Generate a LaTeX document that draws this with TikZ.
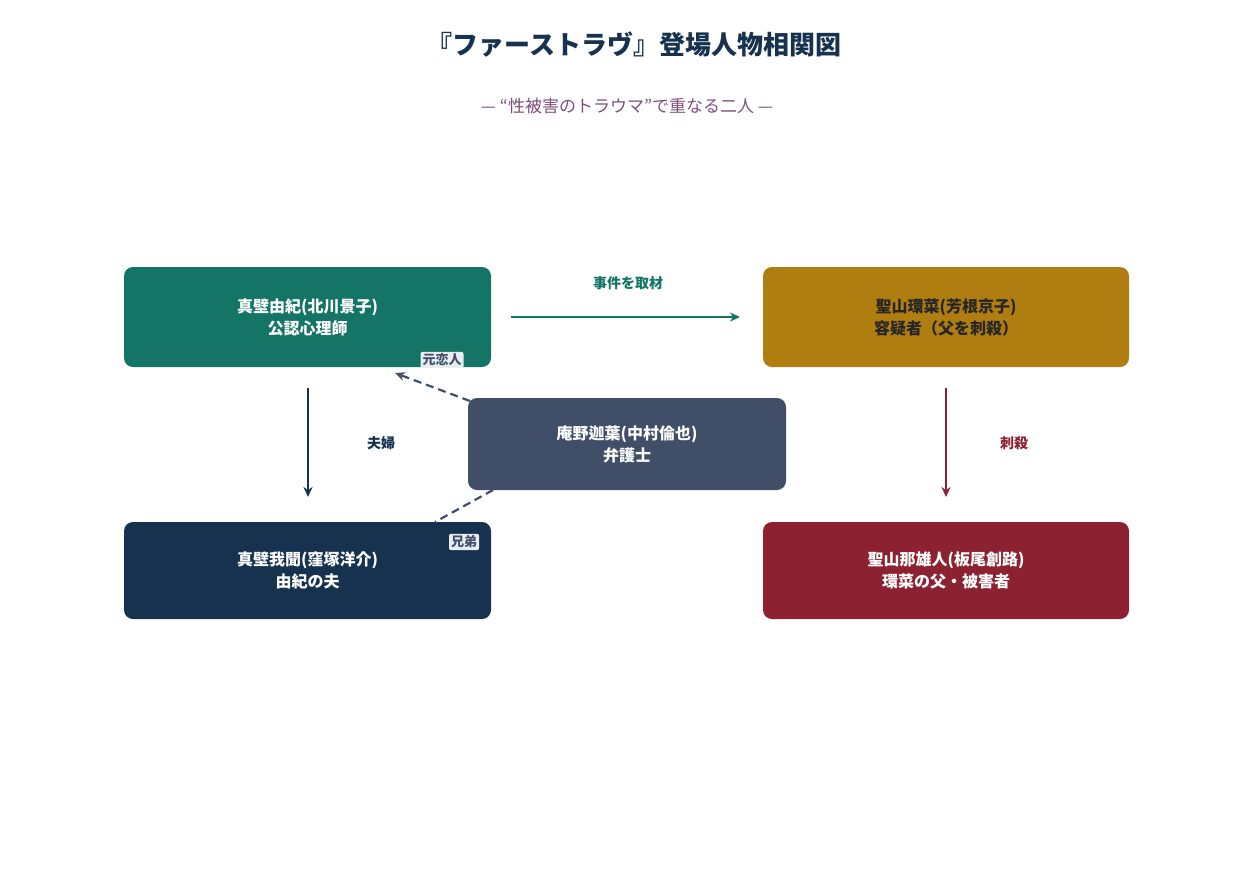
\documentclass[tikz,border=0pt]{standalone}
\usepackage{fontspec}
\setmainfont{Noto Sans CJK JP}
\usetikzlibrary{arrows.meta}
\definecolor{cg}{HTML}{147566}\definecolor{cy}{HTML}{B07D10}\definecolor{cs}{HTML}{414E68}
\definecolor{cn}{HTML}{17324F}\definecolor{cr}{HTML}{8C2231}\definecolor{cp}{HTML}{7B4F7A}
\definecolor{badge}{HTML}{E8EEF0}
\begin{document}
\begin{tikzpicture}[x=1pt,y=-1pt,
 box/.style={rounded corners=9pt,inner sep=0pt,align=center,font=\fontsize{16}{22}\selectfont\bfseries,text=white},
 lab/.style={font=\fontsize{14}{16}\selectfont\bfseries},
 bdg/.style={fill=badge,rounded corners=2pt,inner sep=2pt,text=cs,font=\fontsize{13}{15}\selectfont\bfseries},
 arr/.style={line width=2.2pt,-{Stealth[length=10pt,width=9pt]}},
 dsh/.style={cs,line width=2.2pt,dash pattern=on 8pt off 5pt}]
\useasboundingbox (0,0) rectangle (1254,871);
\node[font=\fontsize{26}{30}\selectfont\bfseries,text=cn] (t) at (634,45) {『ファーストラヴ』登場人物相関図};
\node[font=\fontsize{17}{20}\selectfont,text=cp] (s) at (627,106) {— “性被害のトラウマ”で重なる二人 —};
\node[box,fill=cg,minimum width=367pt,minimum height=100pt] (A) at (307.5,317) {真壁由紀(北川景子)\\公認心理師};
\node[box,fill=cy,text=black!85,minimum width=366pt,minimum height=100pt] (B) at (946,317) {聖山環菜(芳根京子)\\容疑者（父を刺殺）};
\node[box,fill=cs,minimum width=318pt,minimum height=92pt] (C) at (627,444) {庵野迦葉(中村倫也)\\弁護士};
\node[box,fill=cn,minimum width=367pt,minimum height=97pt] (D) at (307.5,570.5) {真壁我聞(窪塚洋介)\\由紀の夫};
\node[box,fill=cr,minimum width=366pt,minimum height=97pt] (E) at (946,570.5) {聖山那雄人(板尾創路)\\環菜の父・被害者};
\coordinate (a1) at (511,317); \coordinate (b1) at (740,317);
\draw[arr,cg] (a1) -- (b1);
\node[lab,text=cg] (l1) at (628,283) {事件を取材};
\coordinate (a2) at (308,388); \coordinate (d2) at (308,497);
\draw[arr,cn] (a2) -- (d2);
\node[lab,text=cn] (l2) at (381,443) {夫婦};
\coordinate (b3) at (946,388); \coordinate (e3) at (946,497);
\draw[arr,cr] (b3) -- (e3);
\node[lab,text=cr] (l3) at (1014,443) {刺殺};
\coordinate (c4) at (470,401); \coordinate (a4) at (395,373);
\draw[dsh,-{Stealth[length=10pt,width=9pt]}] (c4) -- (a4);
\coordinate (c5) at (493,490); \coordinate (d5) at (435,522);
\draw[dsh] (c5) -- (d5);
\node[bdg] (g1) at (442,360) {元恋人};
\node[bdg] (g2) at (464,542) {兄弟};
\end{tikzpicture}
\end{document}
